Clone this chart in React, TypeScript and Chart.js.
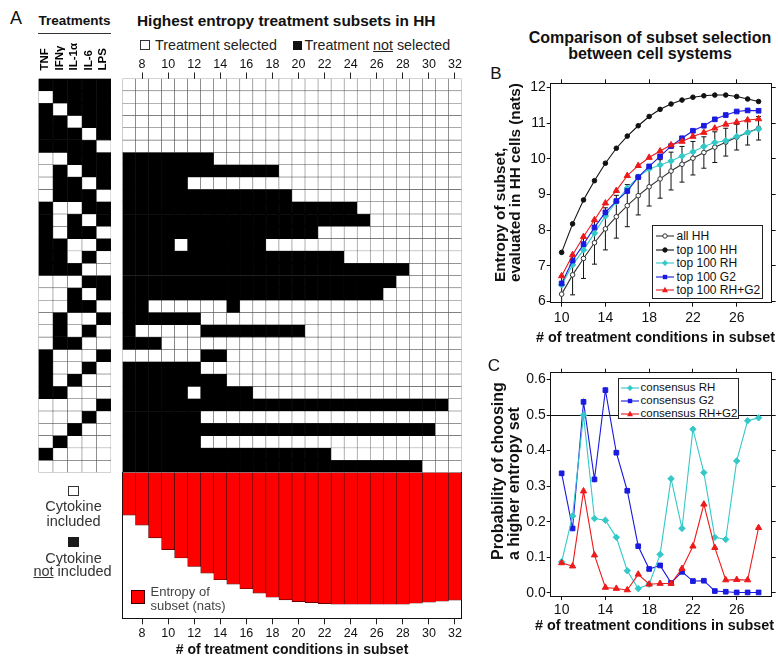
import React, { useEffect, useRef } from 'react';
import { Chart, registerables } from 'chart.js';

Chart.register(...registerables);

const FONT = '"Liberation Sans", Arial, Helvetica, sans-serif';
Chart.defaults.font.family = FONT;
Chart.defaults.color = '#111';

// ---------------- Panel A ----------------
const TREATMENTS = ['TNF', 'IFNγ', 'IL-1α', 'IL-6', 'LPS'];
// 1 = cytokine included (white), 0 = not included (black)
const CONDITIONS = [
  '00000', '10000', '01000', '00100', '00010', '00001',
  '11000', '10100', '10010', '10001', '01100', '01010', '01001', '00110', '00101', '00011',
  '11100', '11010', '11001', '10110', '10101', '10011', '01110', '01101', '01011', '00111',
  '11110', '11101', '11011', '10111', '01111', '11111',
];
const SUBSET_SIZES = [7, 8, 9, 10, 11, 12, 13, 14, 15, 16, 17, 18, 19, 20, 21, 22, 23, 24, 25, 26, 27, 28, 29, 30, 31, 32];
const SUBSET_TICKS = [8, 10, 12, 14, 16, 18, 20, 22, 24, 26, 28, 30, 32];
// one row per treatment condition, one char per subset size (7..32): 1 = selected, 0 = not selected
const SELECTION = [
  '11111 11111 11111 11111 11111 1',
  '11111 11111 11111 11111 11111 1',
  '11111 11111 11111 11111 11111 1',
  '11111 11111 11111 11111 11111 1',
  '11111 11111 11111 11111 11111 1',
  '11111 11111 11111 11111 11111 1',
  '00000 00111 11111 11111 11111 1',
  '00000 00000 00111 11111 11111 1',
  '00000 11111 11111 11111 11111 1',
  '00000 00000 00011 11111 11111 1',
  '00000 00000 00000 00011 11111 1',
  '00000 00000 00000 00001 11111 1',
  '00000 00000 00000 11111 11111 1',
  '00001 00000 01111 11111 11111 1',
  '00000 00000 00000 00111 11111 1',
  '00000 00000 00000 00000 00111 1',
  '00000 00000 00000 00000 01111 1',
  '00000 00000 00000 00000 11111 1',
  '00111 11101 11111 11111 11111 1',
  '00000 01111 11111 11111 11111 1',
  '01111 10000 00001 11111 11111 1',
  '00011 11111 11111 11111 11111 1',
  '11111 10011 11111 11111 11111 1',
  '00000 01111 11111 11111 11111 1',
  '00000 00011 11111 11111 11111 1',
  '00000 10000 11111 11111 11111 1',
  '00000 00000 00000 00000 00000 1',
  '00000 01111 11111 11111 11111 1',
  '00000 00000 00000 00000 00001 1',
  '00000 01111 11111 11111 11111 1',
  '00000 00000 00000 01111 11111 1',
  '00000 00000 00000 00000 00011 1',
];
const SUBSET_ENTROPY = [4.59, 5.40, 6.43, 7.38, 8.06, 8.74, 9.28, 9.82, 10.17, 10.55, 10.90, 11.23, 11.45,
  11.59, 11.67, 11.75, 11.80, 11.80, 11.80, 11.80, 11.80, 11.80, 11.72, 11.64, 11.56, 11.47];
const ENTROPY_MIN = 1.14;
const ENTROPY_MAX = 12.94;

// ---------------- Panel B ----------------
const SIZES_BC = [10, 11, 12, 13, 14, 15, 16, 17, 18, 19, 20, 21, 22, 23, 24, 25, 26, 27, 28];
const X_TICKS_BC = [10, 14, 18, 22, 26];
const Y_TICKS_B = [6, 7, 8, 9, 10, 11, 12];
const ALL_HH = [6.21, 6.75, 7.21, 7.65, 8.04, 8.38, 8.69, 8.97, 9.22, 9.44, 9.66, 9.85, 10.02, 10.18, 10.33, 10.47, 10.61, 10.74, 10.86];
const ALL_HH_SD = [0.5, 0.56, 0.56, 0.6, 0.59, 0.6, 0.59, 0.54, 0.54, 0.54, 0.53, 0.5, 0.47, 0.44, 0.43, 0.39, 0.36, 0.35, 0.33];
const TOP_HH = [7.38, 8.18, 8.85, 9.39, 9.88, 10.3, 10.64, 10.93, 11.19, 11.39, 11.54, 11.65, 11.73, 11.77, 11.79, 11.79, 11.75, 11.68, 11.61];
const TOP_RH = [6.47, 7.03, 7.45, 7.92, 8.4, 8.8, 9.18, 9.49, 9.72, 9.83, 9.94, 10.08, 10.2, 10.35, 10.46, 10.51, 10.63, 10.74, 10.84];
const TOP_G2 = [6.51, 7.15, 7.61, 8.08, 8.5, 8.82, 9.1, 9.49, 9.79, 10.07, 10.36, 10.58, 10.79, 10.93, 11.11, 11.23, 11.33, 11.36, 11.35];
const TOP_RHG2 = [6.72, 7.31, 7.82, 8.29, 8.76, 9.11, 9.53, 9.81, 10.04, 10.22, 10.39, 10.49, 10.63, 10.74, 10.86, 10.97, 11.03, 11.09, 11.12];

// ---------------- Panel C ----------------
const Y_TICKS_C = [0, 0.1, 0.2, 0.3, 0.4, 0.5, 0.6];
const CONS_RH = [0.087, 0.216, 0.5, 0.209, 0.204, 0.156, 0.062, 0.012, 0.024, 0.108, 0.321, 0.181, 0.46, 0.338, 0.156, 0.15, 0.371, 0.484, 0.492];
const CONS_G2 = [0.336, 0.181, 0.537, 0.319, 0.57, 0.394, 0.287, 0.131, 0.067, 0.077, 0.028, 0.059, 0.033, 0.034, 0.005, 0.003, 0.001, 0.001, 0.001];
const CONS_RHG2 = [0.084, 0.075, 0.286, 0.106, 0.015, 0.012, 0.008, 0.052, 0.024, 0.026, 0.026, 0.068, 0.131, 0.249, 0.127, 0.036, 0.037, 0.036, 0.183];

const CYAN = '#34c8c8';
const BLUE = '#1a1ae0';
const RED = '#ec1a1a';

function cellDatasets(rows: string[]) {
  return rows.map((row, r) => {
    const cells = row.replace(/ /g, '').split('');
    return {
      label: 'row ' + r,
      data: cells.map(() => 1),
      backgroundColor: cells.map((c) => (c === '1' ? '#ffffff' : '#000000')),
      borderColor: cells.map((c) => (c === '1' ? '#555555' : '#000000')),
      borderWidth: 0.55,
      borderSkipped: false,
      barPercentage: 1,
      categoryPercentage: 1,
      stack: 'cells',
    };
  });
}

const tickShown = (i: number) => SUBSET_TICKS.includes(SUBSET_SIZES[i]);

function pts(ys: number[]) {
  return SIZES_BC.map((x, i) => ({ x, y: ys[i] }));
}

const noPad = (s: any) => { s.paddingLeft = 0; s.paddingRight = 0; s.paddingTop = 0; s.paddingBottom = 0; };

function frameScales(ymin: number, ymax: number, yTicks: number[], fmt: (v: number) => string, sizes: { top: number; bottom: number; left: number; right: number; xPad: number }, zeroLine: number | null) {
  const setTicks = (vals: number[]) => (axis: any) => {
    axis.ticks = vals.map((v) => ({ value: v }));
  };
  const border = { display: true, color: '#111', width: 1 };
  return {
    x: {
      type: 'linear', min: 9, max: 29.2, position: 'bottom',
      afterBuildTicks: setTicks(X_TICKS_BC),
      grid: { drawOnChartArea: false, tickLength: 4, color: '#111' },
      border,
      ticks: { font: { size: 14 }, color: '#111', padding: sizes.xPad, maxRotation: 0, callback: (v: any) => String(v) },
      afterFit: (s: any) => { s.height = sizes.bottom; noPad(s); },
    },
    x2: {
      type: 'linear', min: 9, max: 29.2, position: 'top',
      afterBuildTicks: setTicks(X_TICKS_BC),
      grid: { drawOnChartArea: false, tickLength: 4, color: '#111' },
      border,
      ticks: { display: false },
      afterFit: (s: any) => { s.height = sizes.top; noPad(s); },
    },
    y: {
      type: 'linear', min: ymin, max: ymax, position: 'left',
      afterBuildTicks: setTicks(yTicks),
      grid: {
        drawOnChartArea: zeroLine !== null,
        tickLength: 4,
        tickColor: '#111',
        color: (ctx: any) => (zeroLine !== null && ctx.tick && Math.abs(ctx.tick.value - zeroLine) < 1e-9 ? '#111' : 'rgba(0,0,0,0)'),
      },
      border,
      ticks: { font: { size: 14 }, color: '#111', padding: 1, callback: (v: any) => fmt(Number(v)) },
      afterFit: (s: any) => { s.width = sizes.left; noPad(s); },
    },
    y2: {
      type: 'linear', min: ymin, max: ymax, position: 'right',
      afterBuildTicks: setTicks(yTicks),
      grid: { drawOnChartArea: false, tickLength: 4, color: '#111' },
      border,
      ticks: { display: false },
      afterFit: (s: any) => { s.width = sizes.right; noPad(s); },
    },
  };
}

const errorBarPlugin = {
  id: 'errorBars',
  beforeDatasetsDraw(chart: any) {
    const { ctx, chartArea, scales } = chart;
    const x = scales.x;
    const y = scales.y;
    ctx.save();
    ctx.beginPath();
    ctx.rect(chartArea.left, chartArea.top, chartArea.right - chartArea.left, chartArea.bottom - chartArea.top);
    ctx.clip();
    ctx.strokeStyle = '#111';
    ctx.lineWidth = 1;
    SIZES_BC.forEach((n, i) => {
      const px = x.getPixelForValue(n);
      const lo = y.getPixelForValue(ALL_HH[i] - ALL_HH_SD[i]);
      const hi = y.getPixelForValue(ALL_HH[i] + ALL_HH_SD[i]);
      ctx.beginPath();
      ctx.moveTo(px, lo);
      ctx.lineTo(px, hi);
      ctx.moveTo(px - 2.5, lo);
      ctx.lineTo(px + 2.5, lo);
      ctx.moveTo(px - 2.5, hi);
      ctx.lineTo(px + 2.5, hi);
      ctx.stroke();
    });
    ctx.restore();
  },
};

const baseOpts = {
  animation: false,
  responsive: false,
  events: [],
  plugins: { legend: { display: false }, tooltip: { enabled: false } },
};

function lineDs(label: string, ys: number[], color: string, style: string, radius: number, order: number, hollow = false) {
  return {
    label,
    data: pts(ys),
    borderColor: color,
    borderWidth: 1.1,
    backgroundColor: color,
    pointStyle: style,
    pointRadius: radius,
    pointBorderWidth: 1,
    pointBorderColor: color,
    pointBackgroundColor: hollow ? '#ffffff' : color,
    tension: 0,
    order,
  };
}

const T = ({ x, y, s, b, c, a, children }: any) => {
  const st: any = {
    position: 'absolute', top: y - s / 2, left: x, fontSize: s, lineHeight: `${s}px`,
    fontWeight: b ? 700 : 400, whiteSpace: 'nowrap', color: c || '#111',
  };
  if (a === 'center') st.transform = 'translateX(-50%)';
  return <div style={st}>{children}</div>;
};

const V = ({ x, y, s, lh, lines }: any) => (
  <div style={{
    position: 'absolute', left: x, top: y, transformOrigin: '0 0', transform: 'rotate(-90deg)',
    fontSize: s, lineHeight: `${lh}px`, fontWeight: 700, whiteSpace: 'nowrap', color: '#111',
  }}>
    {lines.map((l: string, i: number) => <div key={i}>{l}</div>)}
  </div>
);

const Icon = ({ shape, color, hollow }: any) => {
  let m: any = null;
  if (shape === 'circle') m = <circle cx={9} cy={5} r={2.2} fill={hollow ? '#fff' : color} stroke={color} strokeWidth={1} />;
  if (shape === 'diamond') m = <polygon points="9,2 12,5 9,8 6,5" fill={color} />;
  if (shape === 'square') m = <rect x={6.8} y={2.8} width={4.4} height={4.4} fill={color} />;
  if (shape === 'triangle') m = <polygon points="9,1.8 12,7.2 6,7.2" fill={color} />;
  return (
    <svg width={18} height={10} style={{ position: 'absolute', left: 0, top: -5 }}>
      <line x1={0} y1={5} x2={18} y2={5} stroke={color} strokeWidth={1.1} />
      {m}
    </svg>
  );
};

const Legend = ({ left, top, width, height, rows, iconX, textX, s }: any) => (
  <div style={{ position: 'absolute', left, top, width, height, border: '1px solid #222', background: '#fff', boxSizing: 'border-box' }}>
    {rows.map((r: any, i: number) => (
      <div key={i} style={{ position: 'absolute', left: 0, top: r.y }}>
        <div style={{ position: 'absolute', left: iconX, top: 0 }}>
          <Icon shape={r.shape} color={r.color} hollow={r.hollow} />
        </div>
        <div style={{ position: 'absolute', left: textX, top: -s / 2, fontSize: s, lineHeight: `${s}px`, whiteSpace: 'nowrap', color: '#111' }}>{r.label}</div>
      </div>
    ))}
  </div>
);

export default function App() {
  const treatRef = useRef<HTMLCanvasElement>(null);
  const gridRef = useRef<HTMLCanvasElement>(null);
  const entRef = useRef<HTMLCanvasElement>(null);
  const bRef = useRef<HTMLCanvasElement>(null);
  const cRef = useRef<HTMLCanvasElement>(null);

  useEffect(() => {
    const charts: Chart[] = [];

    charts.push(new Chart(treatRef.current as HTMLCanvasElement, {
      type: 'bar',
      data: { labels: TREATMENTS, datasets: cellDatasets(CONDITIONS) as any },
      options: {
        ...baseOpts,
        layout: { padding: { left: 2.5, right: 3, top: 0, bottom: 2.5 } },
        scales: {
          x: {
            position: 'top', stacked: true, offset: true,
            grid: { display: false, drawTicks: false },
            border: { display: false },
            ticks: { minRotation: 90, maxRotation: 90, autoSkip: false, padding: 8, labelOffset: 13, font: { size: 11.5, weight: 'bold' }, color: '#000' },
            afterFit: (s: any) => { s.height = 48.5; noPad(s); },
          },
          y: { stacked: true, min: 0, max: 32, reverse: true, display: false },
        },
      } as any,
    }));

    charts.push(new Chart(gridRef.current as HTMLCanvasElement, {
      type: 'bar',
      data: { labels: SUBSET_SIZES.map(String), datasets: cellDatasets(SELECTION) as any },
      options: {
        ...baseOpts,
        layout: { padding: { left: 2.5, right: 2.5, top: 0, bottom: 2.5 } },
        scales: {
          x: {
            position: 'top', stacked: true, offset: true,
            grid: {
              offset: false, drawOnChartArea: false, tickLength: 6,
              tickColor: (ctx: any) => (tickShown(ctx.index) ? '#222' : 'rgba(0,0,0,0)'),
            },
            border: { display: false },
            ticks: {
              autoSkip: false, maxRotation: 0, minRotation: 0, padding: 0, font: { size: 12.5 }, color: '#111',
              callback: (_v: any, i: number) => (tickShown(i) ? String(SUBSET_SIZES[i]) : ''),
            },
            afterFit: (s: any) => { s.height = 30.5; noPad(s); },
          },
          y: { stacked: true, min: 0, max: 32, reverse: true, display: false },
        },
      } as any,
    }));

    charts.push(new Chart(entRef.current as HTMLCanvasElement, {
      type: 'bar',
      data: {
        labels: SUBSET_SIZES.map(String),
        datasets: [{
          label: 'Entropy of subset (nats)',
          data: SUBSET_ENTROPY,
          base: ENTROPY_MIN,
          backgroundColor: '#ff0000',
          borderColor: '#3a0000',
          borderWidth: 0.6,
          borderSkipped: false,
          barPercentage: 1,
          categoryPercentage: 1,
          clip: 0,
        }] as any,
      },
      options: {
        ...baseOpts,
        layout: { padding: { left: 2.5, right: 2.5, top: 0.5, bottom: 0 } },
        scales: {
          x: {
            position: 'bottom', offset: true,
            grid: {
              offset: false, drawOnChartArea: false, tickLength: 6,
              tickColor: (ctx: any) => (tickShown(ctx.index) ? '#222' : 'rgba(0,0,0,0)'),
            },
            border: { display: true, color: '#111', width: 1 },
            ticks: {
              autoSkip: false, maxRotation: 0, minRotation: 0, padding: 2, font: { size: 12.5 }, color: '#111',
              callback: (_v: any, i: number) => (tickShown(i) ? String(SUBSET_SIZES[i]) : ''),
            },
            title: {
              display: true, text: '# of treatment conditions in subset', color: '#111',
              font: { size: 14, weight: 'bold', lineHeight: 1 }, padding: 0,
            },
            afterFit: (s: any) => { s.height = 38.7; noPad(s); },
          },
          y: {
            min: ENTROPY_MIN, max: ENTROPY_MAX, reverse: true,
            ticks: { display: false }, grid: { display: false },
            border: { display: true, color: '#111', width: 1 },
            afterFit: (s: any) => { s.width = 0; noPad(s); },
          },
          yR: {
            type: 'linear', position: 'right', min: ENTROPY_MIN, max: ENTROPY_MAX,
            ticks: { display: false }, grid: { display: false },
            border: { display: true, color: '#111', width: 1 },
            afterFit: (s: any) => { s.width = 0; noPad(s); },
          },
        },
      } as any,
    }));

    charts.push(new Chart(bRef.current as HTMLCanvasElement, {
      type: 'line',
      data: {
        datasets: [
          lineDs('all HH', ALL_HH, '#333333', 'circle', 2.3, 5, true),
          lineDs('top 100 HH', TOP_HH, '#111111', 'circle', 2.3, 4),
          lineDs('top 100 RH', TOP_RH, CYAN, 'rectRot', 3.2, 3),
          lineDs('top 100 G2', TOP_G2, BLUE, 'rect', 3.3, 2),
          lineDs('top 100 RH+G2', TOP_RHG2, RED, 'triangle', 3.6, 1),
        ] as any,
      },
      options: {
        ...baseOpts,
        layout: { padding: 0 },
        scales: frameScales(5.97, 12.12, Y_TICKS_B, (v) => String(v), { top: 7.3, bottom: 27.3, left: 50.7, right: 6.3, xPad: 3 }, null),
      } as any,
      plugins: [errorBarPlugin],
    }));

    charts.push(new Chart(cRef.current as HTMLCanvasElement, {
      type: 'line',
      data: {
        datasets: [
          lineDs('consensus RH', CONS_RH, CYAN, 'rectRot', 3.2, 2),
          lineDs('consensus G2', CONS_G2, BLUE, 'rect', 3.3, 3),
          lineDs('consensus RH+G2', CONS_RHG2, RED, 'triangle', 3.6, 1),
        ] as any,
      },
      options: {
        ...baseOpts,
        layout: { padding: 0 },
        scales: frameScales(-0.009, 0.619, Y_TICKS_C, (v) => v.toFixed(1), { top: 7.7, bottom: 24, left: 50.7, right: 6.3, xPad: 1.5 }, 0.5),
      } as any,
    }));

    return () => charts.forEach((c) => c.destroy());
  }, []);

  const abs = (l: number, t: number): any => ({ position: 'absolute', left: l, top: t });

  return (
    <div style={{ position: 'absolute', left: 0, top: 0, width: 778, height: 656, overflow: 'hidden', background: '#fff', fontFamily: FONT, color: '#111' }}>
      {/* Panel A headers */}
      <T x={16} y={18} s={18} a="center">A</T>
      <T x={74.5} y={21} s={13.5} b a="center">Treatments</T>
      <div style={{ ...abs(38, 32.5), width: 73, height: 1.2, background: '#333' }} />
      <T x={137} y={21} s={15.4} b>Highest entropy treatment subsets in HH</T>
      <div style={{ ...abs(139.5, 40), width: 10, height: 10, border: '1px solid #333', boxSizing: 'border-box', background: '#fff' }} />
      <T x={155} y={45} s={14.3} c="#222">Treatment selected</T>
      <div style={{ ...abs(292.5, 40.5), width: 9.5, height: 9.5, background: '#111' }} />
      <T x={304.5} y={45} s={14.3} c="#222">Treatment <u>not</u> selected</T>

      <canvas ref={treatRef} width={78} height={445} style={abs(36, 30)} />
      <canvas ref={gridRef} width={344} height={427} style={abs(120, 48)} />
      <canvas ref={entRef} width={344} height={185} style={abs(120, 472)} />

      {/* Cytokine legend */}
      <div style={{ ...abs(68.3, 485.7), width: 10.5, height: 10.5, border: '1px solid #333', boxSizing: 'border-box', background: '#fff' }} />
      <T x={73.5} y={506.7} s={14.5} c="#333" a="center">Cytokine</T>
      <T x={73.5} y={521.7} s={14.5} c="#333" a="center">included</T>
      <div style={{ ...abs(68.3, 536.7), width: 10.5, height: 10.5, background: '#1a1a1a' }} />
      <T x={73.5} y={558.3} s={14.5} c="#333" a="center">Cytokine</T>
      <T x={72.5} y={571.7} s={14.5} c="#333" a="center"><u>not</u> included</T>

      {/* Entropy legend */}
      <div style={{ ...abs(130.5, 590), width: 14.5, height: 13.5, background: '#ff0000', border: '0.6px solid #3a0000', boxSizing: 'border-box' }} />
      <T x={150.5} y={591.7} s={13} c="#444">Entropy of</T>
      <T x={150.5} y={605} s={13} c="#444">subset (nats)</T>

      {/* Panel B */}
      <T x={650} y={38.3} s={16} b a="center">Comparison of subset selection</T>
      <T x={650} y={54.3} s={16} b a="center">between cell systems</T>
      <T x={496} y={73} s={17} a="center">B</T>
      <canvas ref={bRef} width={278} height={254} style={abs(500, 76)} />
      <V x={491.8} y={282} s={15.3} lh={15} lines={['Entropy of subset,', 'evaluated in HH cells (nats)']} />
      <T x={536} y={337.3} s={14.4} b># of treatment conditions in subset</T>
      <Legend left={651.5} top={225} width={111.5} height={73.5} iconX={3} textX={24} s={12}
        rows={[
          { y: 10, label: 'all HH', shape: 'circle', color: '#333', hollow: true },
          { y: 23.5, label: 'top 100 HH', shape: 'circle', color: '#111' },
          { y: 37, label: 'top 100 RH', shape: 'diamond', color: CYAN },
          { y: 50.5, label: 'top 100 G2', shape: 'square', color: BLUE },
          { y: 64, label: 'top 100 RH+G2', shape: 'triangle', color: RED },
        ]} />

      {/* Panel C */}
      <T x={494} y={365} s={17} a="center">C</T>
      <canvas ref={cRef} width={278} height={255} style={abs(500, 365)} />
      <V x={490.3} y={560} s={16} lh={15.5} lines={['Probability of choosing', 'a higher entropy set']} />
      <T x={535} y={625} s={14.4} b># of treatment conditions in subset</T>
      <Legend left={618} top={378} width={121} height={40.5} iconX={2} textX={21.5} s={11.5}
        rows={[
          { y: 8.5, label: 'consensus RH', shape: 'diamond', color: CYAN },
          { y: 21.5, label: 'consensus G2', shape: 'square', color: BLUE },
          { y: 34.5, label: 'consensus RH+G2', shape: 'triangle', color: RED },
        ]} />
    </div>
  );
}
